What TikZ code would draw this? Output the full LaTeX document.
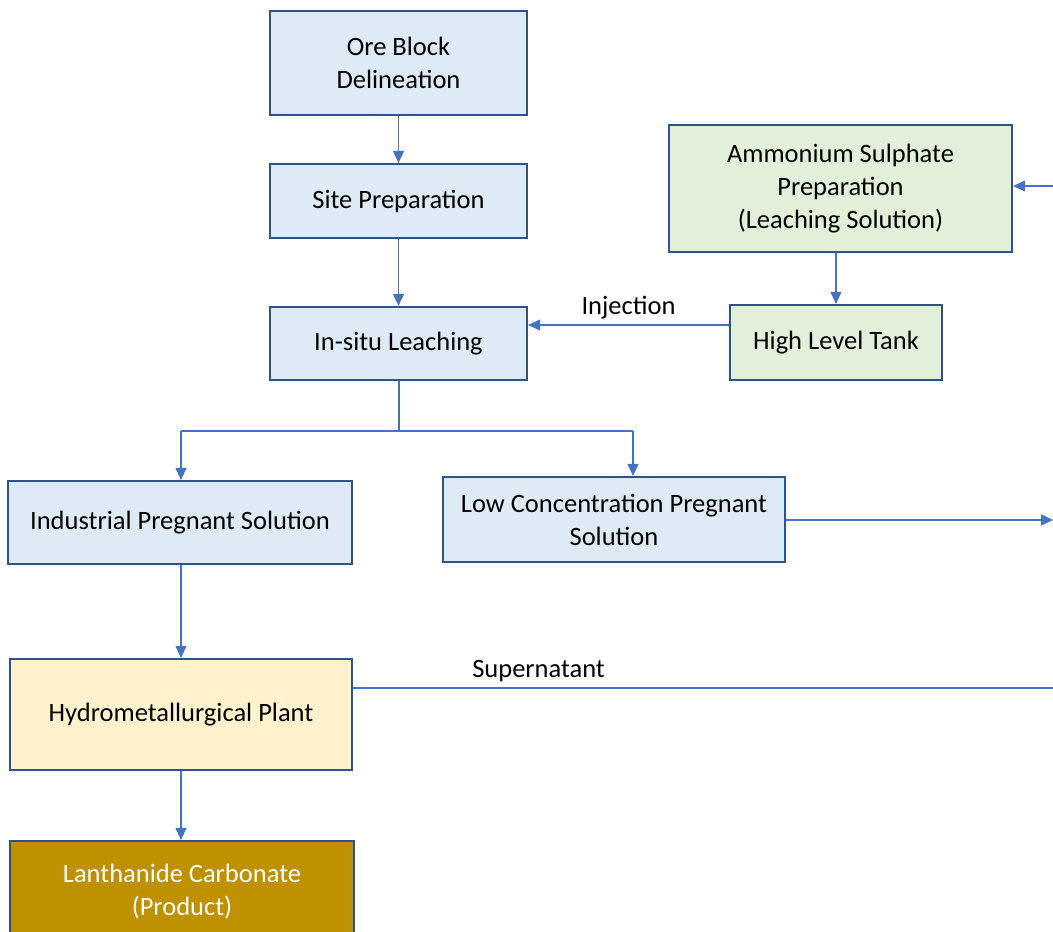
\documentclass[tikz,border=0pt]{standalone}
\usepackage{fontspec}
\setmainfont{Carlito}
\usetikzlibrary{arrows.meta,positioning}
\definecolor{boxblue}{HTML}{DEEBF7}
\definecolor{boxgreen}{HTML}{E2F0D9}
\definecolor{boxyellow}{HTML}{FFF2CC}
\definecolor{boxgold}{HTML}{BF9000}
\definecolor{edgeblue}{HTML}{2F528F}
\definecolor{linkblue}{HTML}{4472C4}
\begin{document}
\begin{tikzpicture}[x=1pt, y=-1pt,
  font=\fontsize{26.5}{33}\selectfont,
  stepbox/.style={draw=edgeblue, line width=2.2pt, fill=boxblue, align=center, inner sep=0pt},
  flow/.style={draw=linkblue, line width=1.1pt, -{Stealth[length=12pt,width=11pt,inset=0pt]}},
  plain/.style={draw=linkblue, line width=1.1pt}]
\useasboundingbox (0,0) rectangle (1053,932);
\clip (0,0) rectangle (1053,932);
% main column
\node (ore)[stepbox, minimum width=257pt, minimum height=104pt] at (398.5,63) {Ore Block\\Delineation};
\node (site)[stepbox, minimum width=257pt, minimum height=74pt] at (398.5,201) {Site Preparation};
\node (leach)[stepbox, minimum width=257pt, minimum height=73pt] at (398.5,343.5) {In-situ Leaching};
% leaching solution
\node (amsul)[stepbox, fill=boxgreen, minimum width=343pt, minimum height=127pt] at (840.5,188.5) {Ammonium Sulphate\\Preparation\\(Leaching Solution)};
\node (tank)[stepbox, fill=boxgreen, minimum width=212pt, minimum height=75pt] at (836,342.5) {High Level Tank};
% pregnant solutions
\node (ips)[stepbox, minimum width=344pt, minimum height=83pt] at (180,522.5) {Industrial Pregnant Solution};
\node (lcps)[stepbox, minimum width=342pt, minimum height=85pt] at (614,519.5) {Low Concentration Pregnant\\Solution};
\node (hydro)[stepbox, fill=boxyellow, minimum width=342pt, minimum height=111pt] at (181,714.5) {Hydrometallurgical Plant};
\node (prod)[stepbox, fill=boxgold, minimum width=344pt, minimum height=150pt] at (182,916) {};
\node (prodtxt)[text=white, align=center] at (182,892) {Lanthanide Carbonate\\(Product)};
% free ends
\coordinate (retin) at (1053,186);
\coordinate (lowout) at (1053,520);
\coordinate (supout) at (1053,688);
\coordinate (split) at (399,431);
\coordinate (splitl) at (181,431);
\coordinate (splitr) at (633,431);
% links
\draw[flow] (amsul.south -| tank.north) -- (tank.north);
\draw[flow] (ore) -- (site);
\draw[flow] (site) -- (leach);
\draw[flow] (tank.west |- 0,325) -- (leach.east |- 0,325) node[midway, above=2pt, text=black] (inj) {Injection};
\draw[plain] (leach.south -| split) -- (split);
\draw[plain] (splitl) -- (splitr);
\draw[flow] (splitl) -- (ips.north -| splitl);
\draw[flow] (splitr) -- (lcps.north -| splitr);
\draw[flow] (lcps.east |- lowout) -- (lowout);
\draw[flow] (retin) -- (amsul.east |- retin);
\draw[flow] (ips.south -| splitl) -- (hydro.north -| splitl);
\draw[plain] (hydro.east |- supout) -- (supout) node[pos=0.265, above=2pt, text=black] (sup) {Supernatant};
\draw[flow] (hydro.south -| splitl) -- (prod.north -| splitl);
\end{tikzpicture}
\end{document}
